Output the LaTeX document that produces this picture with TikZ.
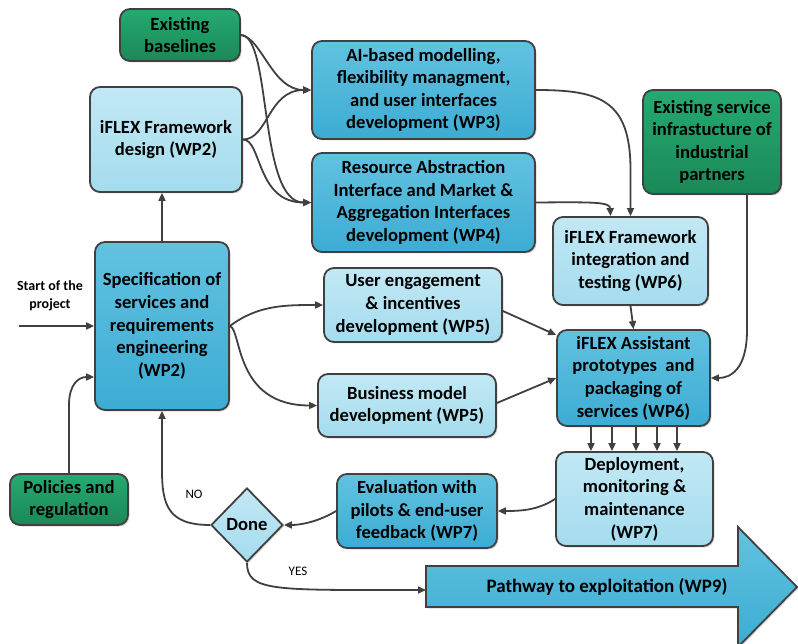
\documentclass[tikz,border=0pt]{standalone}
\usepackage{fontspec}
\setmainfont{Carlito}
\usetikzlibrary{arrows.meta,shapes.geometric,shadows,calc}
\definecolor{edge}{HTML}{404040}
\definecolor{lightT}{HTML}{C2E8F4}
\definecolor{lightB}{HTML}{A4DCEE}
\definecolor{midT}{HTML}{62C2E0}
\definecolor{midB}{HTML}{3CACD3}
\definecolor{greenT}{HTML}{26AA72}
\definecolor{greenB}{HTML}{1A8857}
\begin{document}
\begin{tikzpicture}[x=1pt,y=-1pt,
  box/.style={draw=edge, line width=1.8pt, rounded corners=10pt, align=center, inner sep=0pt,
    font=\bfseries\fontsize{18.6}{22.6}\selectfont,
    drop shadow={opacity=0.3,shadow xshift=1.5pt,shadow yshift=-1.5pt}},
  lightbox/.style={box, top color=lightT, bottom color=lightB},
  midbox/.style={box, top color=midT, bottom color=midB},
  greenbox/.style={box, top color=greenT, bottom color=greenB},
  arr/.style={draw=edge, line width=1.8pt, -{Triangle[length=8pt,width=7pt]}},
  small/.style={font=\fontsize{13}{17}\selectfont, align=center, inner sep=0pt},
]
\useasboundingbox (0,0) rectangle (798,644);

% nodes
\node[greenbox, minimum width=120pt, minimum height=52pt] (base) at (180,35) {Existing\\baselines};
\node[lightbox, minimum width=152pt, minimum height=105pt] (fwd) at (166,139.5) {iFLEX Framework\\design (WP2)};
\node[midbox, minimum width=223pt, minimum height=98pt] (ai) at (423.5,90) {AI-based modelling,\\flexibility managment,\\and user interfaces\\development (WP3)};
\node[midbox, minimum width=223pt, minimum height=99pt] (res) at (423.5,202.5) {Resource Abstraction\\Interface and Market \&\\Aggregation Interfaces\\development (WP4)};
\node[greenbox, minimum width=138pt, minimum height=104pt] (svc) at (712,142) {Existing service\\infrastucture of\\industrial\\partners};
\node[lightbox, minimum width=155pt, minimum height=88pt] (integ) at (630.5,261) {iFLEX Framework\\integration and\\testing (WP6)};
\node[midbox, minimum width=134pt, minimum height=168pt] (spec) at (162,326) {Specification of\\services and\\requirements\\engineering\\(WP2)};
\node[lightbox, minimum width=178pt, minimum height=74pt] (ue) at (413,305) {User engagement\\\& incentives\\development (WP5)};
\node[lightbox, minimum width=178pt, minimum height=63pt] (bm) at (407,405.5) {Business model\\development (WP5)};
\node[midbox, minimum width=153pt, minimum height=96pt] (asst) at (633.5,378) {iFLEX Assistant\\prototypes~ and\\packaging of\\services (WP6)};
\node[lightbox, minimum width=157pt, minimum height=94pt] (dep) at (634.5,499) {Deployment,\\monitoring \&\\maintenance\\(WP7)};
\node[greenbox, minimum width=118pt, minimum height=51pt] (pol) at (69,499.5) {Policies and\\regulation};
\node[midbox, minimum width=160pt, minimum height=74pt] (eval) at (417,511) {Evaluation with\\pilots \& end-user\\feedback (WP7)};
\node[box, rounded corners=0pt, diamond, top color=lightT, bottom color=lightB, minimum width=72pt, minimum height=74pt] (done) at (247,525) {Done};

% big arrow
\path[draw=edge, line width=1.8pt, top color=midT, bottom color=midB,
  drop shadow={opacity=0.3,shadow xshift=1.5pt,shadow yshift=-1.5pt}]
  (426,566) -- (738,566) -- (738,527) -- (797,587) -- (738,647) -- (738,607) -- (426,607) -- cycle;
\node[font=\bfseries\fontsize{19}{22}\selectfont, inner sep=0pt] (expltext) at (607,587) {Pathway to exploitation (WP9)};
\coordinate (expl) at (426,590);

% labels
\node[small, font=\bfseries\fontsize{14}{17.5}\selectfont] (starttxt) at (50,296) {Start of the\\project};
\coordinate (start) at (19,326);
\node[small] (nolbl) at (194,494) {NO};
\node[small] (yeslbl) at (298,571) {YES};

% connectors
\draw[arr] (start) -- (spec.west);
\draw[arr] (spec.north) -- (spec.north |- fwd.south);
\draw[arr] (base.east) .. controls (262,38) and (272,90) .. (ai.west);
\draw[arr] (base.east) .. controls (272,35) and (258,202.5) .. (res.west);
\draw[arr] (fwd.east) .. controls (268,139.5) and (268,90) .. (ai.west);
\draw[arr] (fwd.east) .. controls (262,139.5) and (256,202.5) .. (res.west);
\draw[arr] (ai.east) .. controls (600,90) and (630.5,100) .. (630.5,170) -- (integ.north);
\draw[arr] (res.east) .. controls (595,202) and (610,202) .. ($(integ.north)+(-20,0)$);
\draw[arr] (integ.south) -- (asst.north);
\draw[arr] ($(svc.south)+(35,0)$) -- (747,330) .. controls (747,370) and (730,378) .. (asst.east);
\draw[arr] ($(ue.east)+(0,6)$) -- ($(asst.west)+(0,-43)$);
\draw[arr] ($(bm.east)+(0,-2.5)$) -- (asst.west);
\draw[arr] (spec.east) .. controls (258,305) and (285,305) .. (ue.west);
\draw[arr] (spec.east) .. controls (242,330) and (234,405.5) .. (bm.west);
\draw[arr] (pol.north) -- (69,405) .. controls (69,385) and (78,377) .. ($(spec.west)+(0,51)$);
\foreach \xx in {591,612,636,657,677}
  \draw[arr] (asst.south -| \xx,0) -- (dep.north -| \xx,0);
\draw[arr] (dep.west) .. controls (538,510) and (522,511) .. (eval.east);
\draw[arr] (eval.west) .. controls (318,522) and (300,525) .. (done.east);
\draw[arr] (done.west) .. controls (168,525) and (162,505) .. (162,470) -- (spec.south);
\draw[arr] (done.south) .. controls (247,592) and (275,590) .. (expl);
\end{tikzpicture}
\end{document}
